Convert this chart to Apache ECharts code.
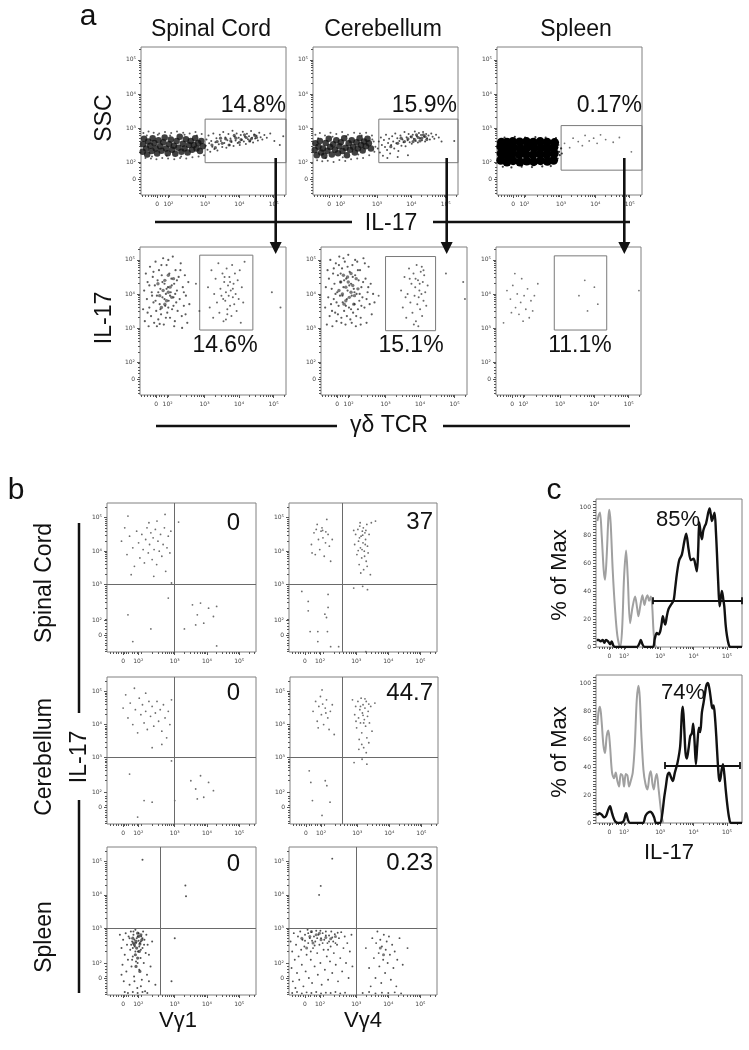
<!DOCTYPE html>
<html><head><meta charset="utf-8">
<script src="https://cdn.jsdelivr.net/npm/echarts/dist/echarts.min.js"></script>
<style>html,body{margin:0;padding:0;background:#fff}#c{width:749px;height:1050px}</style>
</head><body><div id="c"></div>
<script>
// ================= DATA (display coordinates: biexponential decades, 10^3 = 3) =================
const flowLabels = ['0','10²','10³','10⁴','10⁵'];
const aXTicks = [1.6,1.93,3,4,5];
const aYTicks = [1.5,2,3,4,5];
const bXTicks = [1.4,1.87,3,4,5];
const bYTicks = [1.49,1.94,3,4,5];
const cXTicks = [1.48,1.92,3,4,5];
const cYTicks = [0,20,40,60,80,100];
const cYLabels = ['0','20','40','60','80','100'];

// ---- panel a, top row: IL-17 (x) vs SSC (y) ----
const a1Core = [[1.18,2.30],[1.19,2.52],[1.22,2.68],[1.28,2.40],[1.31,2.22],[1.34,2.60],[1.40,2.48],[1.44,2.32],[1.47,2.70],[1.52,2.56],[1.56,2.40],[1.60,2.25],[1.64,2.64],[1.69,2.46],[1.73,2.33],[1.78,2.58],[1.82,2.72],[1.86,2.40],[1.91,2.26],[1.95,2.52],[2.00,2.66],[2.04,2.36],[2.09,2.48],[2.13,2.24],[2.17,2.62],[2.22,2.42],[2.26,2.74],[2.31,2.30],[2.35,2.54],[2.40,2.40],[2.44,2.67],[2.49,2.28],[2.53,2.50],[2.58,2.62],[2.62,2.36],[2.67,2.50],[2.71,2.70],[2.75,2.40],[2.80,2.56],[2.85,2.32],[2.89,2.62],[2.93,2.46]];
const a1Fringe = [[1.20,2.85],[1.26,2.12],[1.35,2.90],[1.42,2.10],[1.50,2.86],[1.58,2.08],[1.66,2.84],[1.75,2.12],[1.83,2.88],[1.92,2.10],[2.01,2.85],[2.10,2.08],[2.18,2.90],[2.27,2.12],[2.36,2.86],[2.45,2.10],[2.55,2.84],[2.63,2.14],[2.72,2.88],[2.81,2.16],[2.90,2.82],[2.97,2.20],[1.30,2.78],[1.62,2.80],[1.98,2.78],[2.40,2.80],[2.76,2.78],[1.45,2.16],[1.88,2.18],[2.30,2.16]];
const a1Band = [[3.02,2.48],[3.04,2.66],[3.07,2.36],[3.10,2.78],[3.12,2.55],[3.15,2.30],[3.18,2.62],[3.21,2.45],[3.24,2.84],[3.27,2.38],[3.30,2.58],[3.33,2.70],[3.36,2.34],[3.40,2.52],[3.43,2.80],[3.46,2.62],[3.50,2.44],[3.53,2.88],[3.56,2.56],[3.59,2.72],[3.62,2.42],[3.65,2.64],[3.68,2.82],[3.71,2.50],[3.74,2.69],[3.77,2.59],[3.80,2.92],[3.83,2.47],[3.86,2.74],[3.89,2.63],[3.92,2.84],[3.95,2.56],[3.98,2.71],[4.01,2.50],[4.04,2.79],[4.07,2.65],[4.10,2.89],[4.13,2.60],[4.16,2.74],[4.19,2.53],[4.22,2.83],[4.25,2.67],[4.28,2.76],[4.31,2.61],[4.34,2.91],[4.37,2.71],[4.40,2.57],[4.43,2.81],[4.46,2.69],[4.50,2.77],[4.54,2.63],[4.58,2.86],[4.62,2.73],[4.67,2.66],[4.73,2.79],[4.80,2.71],[4.90,2.84],[5.02,2.62],[5.18,2.50],[5.28,2.76]];
const a1BandMid = [[3.20,2.50],[3.35,2.60],[3.50,2.55],[3.60,2.68],[3.75,2.62],[3.90,2.70],[4.05,2.66],[4.20,2.72],[4.35,2.68],[4.50,2.72],[3.30,2.42],[3.45,2.70],[3.70,2.50],[3.85,2.78],[4.00,2.58],[4.15,2.80],[4.30,2.62],[4.45,2.78]];

const a2Core = [[1.18,2.35],[1.20,2.55],[1.24,2.20],[1.29,2.45],[1.33,2.62],[1.37,2.28],[1.42,2.40],[1.46,2.18],[1.50,2.56],[1.55,2.33],[1.59,2.68],[1.63,2.44],[1.68,2.22],[1.72,2.52],[1.77,2.36],[1.81,2.64],[1.86,2.26],[1.90,2.46],[1.94,2.58],[1.99,2.32],[2.04,2.70],[2.08,2.42],[2.12,2.20],[2.17,2.55],[2.21,2.36],[2.26,2.64],[2.30,2.45],[2.35,2.28],[2.40,2.58],[2.44,2.40],[2.49,2.70],[2.53,2.50],[2.58,2.34],[2.62,2.60],[2.67,2.46],[2.72,2.68],[2.76,2.55],[2.82,2.40]];
const a2Fringe = [[1.20,2.80],[1.25,2.05],[1.33,2.85],[1.40,2.02],[1.48,2.78],[1.56,2.04],[1.64,2.86],[1.73,2.00],[1.81,2.82],[1.90,2.06],[1.98,2.88],[2.07,2.03],[2.15,2.80],[2.24,2.08],[2.33,2.86],[2.42,2.10],[2.50,2.84],[2.59,2.12],[2.68,2.86],[2.77,2.20],[2.85,2.78],[2.90,2.60],[2.95,2.45],[2.92,2.30],[1.28,2.70],[1.70,2.74],[2.10,2.76],[2.55,2.78],[2.86,2.66],[1.50,2.12],[2.00,2.14],[2.45,2.22]];
const a2Band = [[3.02,2.40],[3.05,2.60],[3.08,2.28],[3.11,2.72],[3.14,2.50],[3.17,2.18],[3.20,2.65],[3.23,2.44],[3.26,2.80],[3.29,2.35],[3.32,2.56],[3.35,2.68],[3.38,2.25],[3.41,2.50],[3.44,2.76],[3.47,2.60],[3.50,2.40],[3.53,2.84],[3.56,2.55],[3.59,2.70],[3.62,2.32],[3.65,2.62],[3.68,2.78],[3.71,2.48],[3.74,2.66],[3.77,2.58],[3.80,2.88],[3.83,2.46],[3.86,2.73],[3.89,2.64],[3.92,2.82],[3.95,2.58],[3.98,2.74],[4.01,2.54],[4.04,2.80],[4.07,2.68],[4.10,2.90],[4.13,2.62],[4.16,2.76],[4.19,2.57],[4.22,2.85],[4.25,2.70],[4.28,2.79],[4.31,2.64],[4.34,2.88],[4.37,2.74],[4.40,2.60],[4.43,2.82],[4.46,2.70],[4.50,2.78],[4.54,2.66],[4.58,2.84],[4.62,2.74],[4.67,2.68],[4.72,2.80],[4.80,2.72],[4.88,2.60],[3.30,2.12],[3.60,2.15],[3.90,2.20],[5.25,2.62]];
const a2BandMid = [[3.90,2.68],[4.00,2.74],[4.10,2.66],[4.20,2.72],[4.30,2.70],[4.40,2.75],[4.15,2.80],[4.25,2.62],[4.35,2.80],[3.80,2.60],[4.45,2.66],[4.05,2.60],[3.60,2.55],[3.40,2.45],[3.70,2.70]];

const a3Core = [[1.24,2.05],[1.25,2.25],[1.24,2.45],[1.26,2.58],[1.42,2.00],[1.43,2.20],[1.41,2.40],[1.42,2.58],[1.60,2.04],[1.58,2.24],[1.61,2.42],[1.59,2.60],[1.80,2.00],[1.78,2.22],[1.81,2.40],[1.79,2.59],[2.00,2.03],[1.98,2.23],[2.01,2.43],[1.99,2.60],[2.20,2.01],[2.18,2.21],[2.21,2.41],[2.19,2.58],[2.40,2.04],[2.38,2.24],[2.41,2.42],[2.39,2.60],[2.60,2.02],[2.58,2.22],[2.61,2.40],[2.59,2.58],[2.78,2.05],[2.80,2.25],[2.79,2.43],[2.81,2.57]];
const a3Fringe = [[2.90,2.10],[2.94,2.30],[2.92,2.50],[2.96,2.20],[2.88,2.62],[1.30,1.86],[1.55,1.84],[1.85,1.86],[2.15,1.85],[2.45,1.87],[2.70,1.88],[1.35,2.72],[1.65,2.74],[1.95,2.72],[2.25,2.73],[2.55,2.72],[2.85,2.70],[3.00,2.40],[3.02,2.25]];
const a3Gate = [[3.10,2.55],[3.25,2.42],[3.35,2.70],[3.50,2.60],[3.62,2.48],[3.70,2.78],[3.82,2.62],[3.95,2.70],[4.05,2.55],[4.15,2.80],[4.30,2.66],[4.52,2.58],[4.70,2.72],[5.05,2.30]];

// ---- panel a, bottom row: γδ TCR (x) vs IL-17 (y) ----
const a4Cloud = [[1.22,3.55],[1.25,4.10],[1.27,3.20],[1.30,4.60],[1.33,3.85],[1.35,4.35],[1.38,3.05],[1.40,3.60],[1.42,4.80],[1.45,3.35],[1.47,4.05],[1.50,4.50],[1.52,3.75],[1.54,3.15],[1.56,4.25],[1.58,4.95],[1.60,3.50],[1.62,3.95],[1.64,4.40],[1.66,3.25],[1.68,4.70],[1.70,3.70],[1.72,4.15],[1.74,3.40],[1.76,4.55],[1.78,3.90],[1.80,5.05],[1.82,3.10],[1.84,4.30],[1.86,3.65],[1.88,4.00],[1.90,4.85],[1.92,3.45],[1.94,4.20],[1.96,3.80],[1.98,4.60],[2.00,3.30],[2.02,4.05],[2.04,4.45],[2.06,3.55],[2.08,5.10],[2.10,3.90],[2.12,4.30],[2.14,3.20],[2.16,4.70],[2.18,3.75],[2.20,4.10],[2.22,3.50],[2.25,4.50],[2.28,3.85],[2.31,4.90],[2.34,3.35],[2.37,4.20],[2.40,3.65],[2.43,4.55],[2.46,3.95],[2.50,3.15],[2.53,4.35],[2.56,3.70],[1.35,3.45],[1.48,3.95],[1.58,3.80],[1.66,4.05],[1.72,3.55],[1.78,4.35],[1.84,3.85],[1.90,4.15],[1.95,3.60],[2.00,3.95],[2.05,4.25],[2.10,3.65],[2.15,4.00],[2.20,4.40],[1.75,4.85],[1.95,5.00],[2.30,4.70],[1.40,4.25],[1.52,4.65],[2.40,4.05],[2.45,3.40],[1.62,3.05],[1.88,3.30],[2.12,3.05],[2.35,3.00],[1.70,3.12]];
const a4CloudMid = [[1.70,3.95],[1.80,4.10],[1.90,3.80],[1.85,4.40],[2.00,4.20],[1.75,3.60],[1.95,4.55],[2.05,3.90],[1.65,4.30],[2.10,4.45],[1.85,3.70],[1.95,4.05]];
const a4Gate = [[3.10,4.20],[3.15,3.60],[3.20,4.70],[3.25,3.30],[3.28,4.00],[3.32,4.45],[3.36,3.75],[3.40,4.90],[3.43,3.45],[3.46,4.15],[3.49,3.95],[3.52,4.60],[3.55,3.20],[3.57,4.35],[3.60,3.80],[3.62,4.05],[3.64,4.75],[3.66,3.55],[3.68,4.25],[3.70,3.95],[3.72,4.50],[3.74,3.65],[3.76,4.10],[3.78,3.35],[3.80,4.85],[3.82,3.90],[3.84,4.30],[3.86,3.70],[3.88,4.60],[3.90,4.00],[3.93,3.50],[3.96,4.40],[3.99,3.85],[4.02,4.70],[4.05,3.15],[4.08,4.20],[4.12,3.75],[4.16,4.95],[3.58,4.50],[3.66,3.40],[3.74,4.35],[3.82,4.15],[3.62,3.25],[3.54,3.85],[4.95,4.05],[5.20,3.60],[2.75,4.30],[2.85,3.50]];

const a5Cloud = [[1.25,3.60],[1.27,4.20],[1.30,3.10],[1.32,4.70],[1.34,3.90],[1.36,4.45],[1.38,3.35],[1.40,5.00],[1.42,3.70],[1.44,4.15],[1.46,3.05],[1.48,4.60],[1.50,3.85],[1.52,4.30],[1.54,3.45],[1.56,4.90],[1.58,3.20],[1.60,4.05],[1.62,4.55],[1.64,3.65],[1.66,5.10],[1.68,3.95],[1.70,4.35],[1.72,3.30],[1.74,4.75],[1.76,3.75],[1.78,4.20],[1.80,3.50],[1.82,4.95],[1.84,3.10],[1.86,4.45],[1.88,3.85],[1.90,4.10],[1.92,5.15],[1.94,3.60],[1.96,4.65],[1.98,3.25],[2.00,4.30],[2.02,3.95],[2.04,4.85],[2.06,3.45],[2.08,4.15],[2.10,3.70],[2.12,4.55],[2.14,3.05],[2.16,4.00],[2.18,4.95],[2.20,3.55],[2.22,4.40],[2.24,3.80],[2.26,4.70],[2.28,3.30],[2.30,4.20],[2.33,3.90],[2.36,5.05],[2.39,3.60],[2.42,4.45],[2.45,3.15],[2.48,4.05],[2.51,4.80],[2.54,3.70],[2.57,4.30],[2.60,3.40],[2.64,4.00],[2.68,3.75],[1.45,3.50],[1.55,4.00],[1.62,3.40],[1.70,4.60],[1.75,3.95],[1.80,4.40],[1.85,3.65],[1.90,4.80],[1.95,4.25],[2.00,3.55],[2.05,4.50],[2.10,4.05],[2.15,3.35],[2.20,4.70],[2.25,4.00],[2.30,3.65],[2.35,4.35],[1.65,4.85],[1.78,5.05],[2.12,5.00],[1.50,4.75],[2.40,4.90],[1.58,3.75],[2.45,3.85],[2.50,4.20],[1.72,3.15],[2.02,3.15],[1.88,3.35],[2.28,3.10]];
const a5CloudMid = [[1.75,4.00],[1.85,4.20],[1.95,3.90],[1.90,4.50],[2.05,4.25],[1.80,3.70],[2.00,4.60],[2.10,3.95],[1.70,4.35],[2.15,4.45],[1.85,3.80],[2.00,4.05],[1.65,4.10],[2.20,4.15],[1.92,4.35],[1.78,4.55],[2.08,3.70]];
const a5Gate = [[3.45,4.10],[3.50,3.60],[3.55,4.50],[3.60,3.30],[3.64,4.00],[3.68,4.75],[3.72,3.75],[3.75,4.30],[3.78,3.45],[3.81,4.60],[3.84,3.95],[3.86,4.20],[3.88,3.20],[3.90,4.85],[3.92,3.70],[3.94,4.40],[3.96,3.90],[3.98,4.10],[4.00,3.55],[4.02,4.65],[4.04,4.00],[4.06,3.35],[4.08,4.35],[4.10,3.80],[4.12,4.55],[4.15,4.05],[4.18,3.65],[4.22,4.25],[3.70,4.45],[3.82,3.10],[3.95,3.05],[4.05,4.80],[3.87,4.45],[3.99,4.30],[4.10,4.70],[3.58,3.90],[5.25,4.35],[5.30,3.85],[2.80,3.95],[4.75,4.60]];

const a6Dots = [[1.45,4.10],[1.55,3.85],[1.62,4.25],[1.70,3.60],[1.75,4.00],[1.80,3.40],[1.85,3.75],[1.88,4.45],[1.92,3.20],[1.95,3.95],[2.00,3.55],[2.05,4.15],[2.10,3.30],[2.15,3.80],[2.20,3.50],[1.68,4.60],[1.58,3.45],[2.25,3.95],[1.35,3.15],[2.35,4.30],[3.55,3.95],[3.72,4.40],[4.00,4.20],[4.10,3.70],[3.80,3.50],[5.30,4.10]];

// ---- panel b: Vγ1 / Vγ4 (x) vs IL-17 (y) ----
const b1Dots = [[1.35,4.30],[1.45,4.70],[1.52,3.90],[1.60,4.45],[1.70,4.10],[1.75,3.55],[1.82,4.60],[1.88,4.25],[1.92,3.80],[1.98,4.50],[2.02,4.05],[2.06,3.65],[2.10,4.35],[2.14,4.70],[2.18,3.95],[2.22,4.20],[2.26,4.55],[2.30,3.75],[2.33,4.40],[2.36,4.05],[2.40,4.65],[2.44,3.60],[2.48,4.30],[2.52,4.00],[2.56,4.50],[2.60,3.85],[2.64,4.20],[2.68,4.70],[2.72,3.40],[2.76,4.10],[2.80,4.45],[2.85,3.95],[2.88,4.60],[2.20,4.85],[2.45,4.90],[1.65,3.30],[2.35,3.25],[2.90,3.05],[1.55,5.05],[2.70,5.10],[3.12,4.87],[3.55,2.40],[3.70,2.10],[3.80,2.45],[3.90,1.85],[4.05,2.30],[4.20,2.05],[3.65,1.80],[4.30,2.35],[2.26,1.68],[3.30,1.68],[4.30,1.17],[1.55,2.10],[2.80,2.60],[1.70,1.30]];
const b2Dots = [[1.60,4.20],[1.68,4.55],[1.72,3.90],[1.78,4.80],[1.82,4.35],[1.86,4.05],[1.90,4.60],[1.93,4.70],[1.96,4.40],[2.00,3.85],[2.04,4.25],[2.08,4.95],[2.12,4.50],[2.16,4.15],[2.20,3.70],[2.25,4.35],[1.75,4.65],[1.95,4.62],[2.05,4.58],[1.62,3.95],[2.95,4.20],[2.98,4.50],[3.02,3.90],[3.05,4.65],[3.07,4.30],[3.09,3.60],[3.11,4.75],[3.13,4.10],[3.15,4.45],[3.17,3.80],[3.19,4.60],[3.21,4.25],[3.23,3.45],[3.25,4.00],[3.27,4.55],[3.29,4.35],[3.31,3.70],[3.33,4.80],[3.35,4.15],[3.37,3.95],[3.40,4.50],[3.44,3.30],[3.47,4.85],[3.10,4.40],[3.18,4.05],[3.22,4.70],[3.26,3.85],[3.14,3.35],[3.30,4.62],[3.06,4.02],[3.20,4.48],[3.28,4.20],[3.12,4.85],[2.92,4.62],[3.34,3.55],[3.60,4.90],[1.50,2.50],[1.50,2.22],[2.02,2.12],[2.07,2.02],[2.12,2.32],[1.56,1.60],[1.80,1.60],[2.10,1.60],[1.80,1.30],[2.20,1.15],[2.45,1.15],[2.12,2.71],[2.92,2.90],[3.20,2.95],[3.35,2.85],[3.30,1.00],[1.30,2.80]];
const b3Dots = [[1.40,4.50],[1.48,4.90],[1.55,4.20],[1.62,4.65],[1.70,4.00],[1.78,4.45],[1.85,3.75],[1.90,4.80],[1.95,4.30],[2.00,4.60],[2.05,4.05],[2.10,4.40],[2.15,3.85],[2.20,4.70],[2.25,4.25],[2.30,4.55],[2.35,3.95],[2.40,4.35],[2.45,4.70],[2.50,4.10],[2.55,4.45],[2.60,3.80],[2.65,4.60],[2.70,4.20],[2.75,3.60],[2.80,4.40],[2.85,4.00],[2.90,4.75],[2.30,3.30],[2.60,3.40],[1.75,5.10],[2.10,4.95],[3.50,2.30],[3.65,2.05],[3.80,2.45],[3.90,1.80],[4.05,2.25],[4.20,2.00],[3.70,1.75],[1.60,2.50],[2.05,1.70],[2.30,1.65],[1.85,1.20],[3.00,1.70],[2.90,2.90]];
const b4Dots = [[1.62,4.40],[1.70,4.70],[1.75,4.10],[1.80,4.55],[1.85,4.85],[1.88,4.30],[1.92,4.62],[1.95,4.00],[2.00,4.50],[2.04,4.75],[2.08,4.20],[2.12,3.85],[2.16,4.40],[2.22,4.60],[2.28,3.70],[1.90,5.05],[2.02,4.35],[1.78,3.90],[2.92,4.30],[2.95,4.55],[2.98,3.90],[3.02,4.70],[3.04,4.20],[3.06,3.55],[3.08,4.45],[3.10,4.05],[3.12,4.80],[3.14,3.75],[3.16,4.35],[3.18,4.60],[3.20,3.30],[3.22,4.15],[3.24,4.50],[3.26,3.95],[3.28,4.70],[3.30,3.60],[3.32,4.25],[3.34,4.40],[3.36,3.45],[3.38,4.05],[3.42,4.55],[3.46,3.80],[3.10,4.55],[3.18,4.28],[3.24,4.78],[3.28,3.15],[3.14,3.40],[3.20,4.05],[2.96,4.10],[3.36,4.62],[3.05,3.25],[2.85,4.75],[3.55,4.65],[1.50,2.60],[1.55,2.25],[2.00,2.30],[2.05,2.15],[1.60,1.70],[2.15,1.65],[1.90,1.25],[2.90,2.85],[3.15,2.95],[3.30,2.80]];
const b5Dots = [[1.30,2.80],[1.35,2.40],[1.38,1.90],[1.40,2.65],[1.42,1.40],[1.45,2.20],[1.48,2.85],[1.50,1.70],[1.52,2.50],[1.55,2.05],[1.57,2.75],[1.60,1.30],[1.62,2.35],[1.64,2.90],[1.66,1.85],[1.68,2.60],[1.70,2.15],[1.72,2.80],[1.74,1.55],[1.76,2.45],[1.78,2.95],[1.80,2.00],[1.82,2.70],[1.84,1.20],[1.86,2.30],[1.88,2.85],[1.90,1.75],[1.92,2.55],[1.94,2.10],[1.96,2.75],[1.98,1.45],[2.00,2.40],[2.02,2.90],[2.04,1.95],[2.06,2.65],[2.08,1.10],[2.10,2.25],[2.12,2.80],[2.14,1.60],[2.16,2.50],[1.65,2.50],[1.70,2.40],[1.75,2.65],[1.80,2.55],[1.85,2.75],[1.90,2.45],[1.95,2.60],[2.00,2.70],[1.72,2.90],[1.88,2.62],[1.78,2.30],[1.95,2.35],[1.60,2.70],[2.05,2.50],[1.68,2.05],[1.85,1.95],[1.75,1.40],[1.95,1.25],[1.55,1.05],[1.85,1.05],[2.00,1.08],[2.15,1.05],[1.45,1.08],[1.70,1.08],[2.20,2.20],[2.25,1.85],[2.30,2.60],[1.35,1.60],[2.40,1.30],[2.20,1.40],[2.00,5.06],[3.33,4.28],[3.35,3.96],[3.00,2.70],[2.90,1.40]];
const b5Mid = [[1.80,2.60],[1.88,2.75],[1.75,2.50],[1.92,2.52],[1.82,2.40],[1.70,2.70],[1.98,2.65],[1.85,2.85],[1.78,2.20],[1.90,2.30],[1.95,2.80],[1.72,2.55],[1.85,2.10],[1.80,1.85],[1.92,1.70]];
const b6Dots = [[0.95,2.60],[0.98,1.80],[1.00,2.30],[1.02,1.40],[1.05,2.85],[1.08,2.05],[1.10,1.20],[1.12,2.50],[1.15,1.65],[1.18,2.75],[1.20,2.15],[1.22,1.45],[1.25,2.90],[1.28,2.35],[1.30,1.90],[1.32,2.65],[1.35,1.25],[1.38,2.45],[1.40,2.80],[1.42,1.70],[1.45,2.20],[1.48,2.95],[1.50,2.55],[1.52,1.50],[1.55,2.70],[1.58,2.05],[1.60,2.88],[1.62,1.35],[1.65,2.40],[1.68,2.75],[1.70,1.85],[1.72,2.60],[1.75,2.92],[1.78,2.25],[1.80,1.60],[1.82,2.80],[1.85,2.50],[1.88,1.95],[1.90,2.70],[1.92,1.30],[1.95,2.85],[1.98,2.35],[2.00,2.65],[2.02,1.75],[2.05,2.90],[2.08,2.15],[2.10,2.55],[2.12,1.45],[2.15,2.78],[2.18,2.00],[2.20,2.45],[2.22,2.90],[2.25,1.65],[2.28,2.60],[2.30,2.25],[2.33,2.82],[2.36,1.90],[2.40,2.50],[2.43,1.40],[2.46,2.70],[2.50,2.10],[2.53,2.88],[2.56,1.70],[2.60,2.40],[2.64,2.75],[2.68,1.95],[2.72,2.55],[2.76,1.50],[2.80,2.30],[2.85,2.80],[2.88,1.85],[1.50,2.85],[1.62,2.62],[1.78,2.70],[1.95,2.55],[2.05,2.78],[2.15,2.60],[2.25,2.72],[2.35,2.55],[1.40,2.62],[1.70,2.48],[1.88,2.92],[2.42,2.86],[1.58,2.30],[2.12,2.35],[1.00,1.05],[1.15,1.08],[1.30,1.04],[1.45,1.07],[1.60,1.05],[1.75,1.08],[1.90,1.04],[2.05,1.06],[2.20,1.05],[2.35,1.08],[2.50,1.04],[2.65,1.06],[3.20,1.05],[3.40,1.08],[3.60,1.04],[3.80,1.06],[4.00,1.05],[4.20,1.07],[4.40,1.04],[3.30,2.40],[3.40,1.80],[3.50,2.70],[3.55,2.10],[3.60,1.50],[3.62,2.55],[3.66,2.90],[3.70,2.25],[3.72,1.85],[3.75,2.65],[3.78,1.35],[3.80,2.45],[3.84,2.05],[3.86,2.80],[3.90,1.65],[3.92,2.35],[3.95,2.60],[3.98,1.95],[4.02,2.75],[4.05,2.20],[4.08,1.45],[4.12,2.50],[4.16,1.80],[4.20,2.30],[4.28,2.05],[4.35,2.70],[4.45,1.90],[4.60,2.40],[3.45,1.25],[4.25,1.25],[2.25,5.09],[1.89,4.27],[1.84,4.00]];
const b6Mid = [[1.55,2.75],[1.75,2.80],[1.90,2.65],[2.05,2.72],[1.65,2.55],[2.20,2.68],[1.85,2.85],[1.45,2.40],[3.75,2.40],[3.85,2.20],[1.30,2.70],[2.35,2.75],[1.60,2.90]];

// ---- panel c: IL-17 histograms (% of Max) ----
const c1Gray = [[1.12,90],[1.16,94],[1.20,96],[1.25,80],[1.31,55],[1.35,48],[1.40,65],[1.45,92],[1.48,98],[1.52,88],[1.58,55],[1.65,27],[1.72,8],[1.80,0],[1.86,12],[1.92,50],[1.98,69],[2.03,50],[2.10,17],[2.17,28],[2.25,36],[2.31,28],[2.35,22],[2.41,30],[2.47,37],[2.53,30],[2.58,35],[2.62,37],[2.67,33],[2.72,36],[2.76,30],[2.80,12],[2.84,2],[2.88,0]];
const c1Black = [[1.10,5],[1.16,5],[1.22,4],[1.28,5],[1.33,3],[1.38,5],[1.44,4],[1.50,2],[1.55,4],[1.60,1],[1.66,0],[2.30,0],[2.37,2],[2.42,5],[2.47,2],[2.53,0],[2.78,0],[2.84,6],[2.90,10],[2.95,9],[3.00,11],[3.04,16],[3.08,22],[3.12,18],[3.15,16],[3.20,22],[3.25,27],[3.32,30],[3.40,33],[3.45,42],[3.50,52],[3.57,62],[3.65,66],[3.72,75],[3.78,81],[3.85,70],[3.92,62],[4.00,63],[4.06,58],[4.10,54],[4.14,70],[4.17,89],[4.21,82],[4.25,77],[4.29,83],[4.33,86],[4.37,88],[4.40,91],[4.44,96],[4.48,99],[4.52,94],[4.55,90],[4.59,93],[4.63,96],[4.67,82],[4.70,67],[4.74,45],[4.78,29],[4.82,36],[4.85,40],[4.89,34],[4.92,29],[4.96,16],[5.00,8],[5.05,2],[5.10,0],[5.45,0]];
const c2Gray = [[1.12,70],[1.16,80],[1.20,83],[1.25,72],[1.30,56],[1.35,50],[1.40,62],[1.45,66],[1.50,55],[1.56,36],[1.62,32],[1.67,36],[1.72,30],[1.77,26],[1.82,35],[1.87,34],[1.92,26],[1.97,35],[2.02,34],[2.07,26],[2.12,30],[2.18,36],[2.24,55],[2.30,88],[2.35,98],[2.39,90],[2.44,62],[2.50,38],[2.56,28],[2.62,24],[2.68,34],[2.72,37],[2.77,28],[2.81,24],[2.86,32],[2.90,35],[2.95,25],[3.00,14],[3.05,4],[3.09,0]];
const c2Black = [[1.08,7],[1.13,6],[1.18,7],[1.25,6],[1.32,4],[1.38,5],[1.44,9],[1.50,12],[1.55,8],[1.60,4],[1.66,1],[1.75,0],[1.90,1],[1.98,7],[2.04,2],[2.10,0],[2.48,0],[2.56,5],[2.62,7],[2.70,8],[2.76,7],[2.82,4],[2.88,0],[3.00,0],[3.06,6],[3.12,18],[3.17,26],[3.22,34],[3.27,36],[3.32,33],[3.38,30],[3.44,36],[3.52,43],[3.60,55],[3.65,78],[3.68,83],[3.72,68],[3.76,50],[3.80,46],[3.85,53],[3.90,62],[3.95,64],[3.99,71],[4.03,58],[4.07,42],[4.11,55],[4.16,68],[4.20,65],[4.25,79],[4.30,86],[4.34,92],[4.38,98],[4.43,100],[4.48,95],[4.52,88],[4.56,82],[4.60,84],[4.64,76],[4.68,62],[4.72,45],[4.76,32],[4.79,30],[4.84,38],[4.88,42],[4.92,35],[4.97,22],[5.02,11],[5.07,3],[5.12,0],[5.45,0]];

// gates [x1, y1, x2, y2] (null = to panel edge), quadrants [x, y], histogram markers [x1, x2, y]
const gatesA = {a1:[3.0,1.98,null,3.26], a2:[3.05,1.98,null,3.26], a3:[3.0,1.76,null,3.07], a4:[2.86,2.94,4.40,5.14], a5:[3.0,2.92,4.45,5.10], a6:[2.83,2.94,4.36,5.12]};
const quadsB = {b1:[3.0,3.0], b2:[2.55,3.0], b3:[3.0,3.0], b4:[2.53,3.0], b5:[2.55,3.0], b6:[3.0,3.0]};
const histMarkers = {c1:[2.78,5.44,33.1], c2:[3.15,5.37,41.1]};

// ================= LAYOUT / BUILD =================
const FONT = '"Liberation Sans", Arial, Helvetica, sans-serif';
const AX = [1.13,5.36], AY = [1.03,5.38], BX = [0.9,5.52], BY = [0.99,5.44], CX = [1.08,5.45], CY = [0,105.7];

function logMinors(lo, hi, extra) {
  const out = [];
  [1,2,3,4,5].forEach(d => { for (let k = 2; k <= 9; k++) { const v = d + Math.log10(k); if (v > 1.95 && v > lo && v < hi) out.push(v); } });
  (extra||[]).forEach(v => { if (v > lo && v < hi) out.push(v); });
  return out;
}
const lowMinors = [1.18,1.26,1.34,1.42,1.5,1.56,1.68,1.76,1.84,1.0,1.08];

const panels = [
  {id:'a1', box:[141,47,145,148], xr:AX, yr:AY, xt:aXTicks, yt:aYTicks, layers:[[a1Fringe,2,'#333',0.8],[a1Band,2,'#333',0.85],[a1BandMid,3.2,'#222',0.7],[a1Core,6.5,'#111',0.8]], gate:gatesA.a1},
  {id:'a2', box:[313,47,145,148], xr:AX, yr:AY, xt:aXTicks, yt:aYTicks, layers:[[a2Fringe,2,'#333',0.8],[a2Band,2,'#333',0.85],[a2BandMid,3.2,'#222',0.7],[a2Core,6.5,'#111',0.8]], gate:gatesA.a2},
  {id:'a3', box:[497,47,145,148], xr:AX, yr:AY, xt:aXTicks, yt:aYTicks, layers:[[a3Fringe,2.2,'#222',0.9],[a3Gate,1.8,'#666',0.9],[a3Core,9,'#000',1]], gate:gatesA.a3},
  {id:'a4', box:[140,247,146,148], xr:AX, yr:AY, xt:aXTicks, yt:aYTicks, layers:[[a4Cloud,2.2,'#333',0.8],[a4CloudMid,3.4,'#222',0.6],[a4Gate,2,'#444',0.8]], gate:gatesA.a4},
  {id:'a5', box:[321,247,146,148], xr:AX, yr:AY, xt:aXTicks, yt:aYTicks, layers:[[a5Cloud,2.2,'#333',0.8],[a5CloudMid,3.4,'#222',0.6],[a5Gate,2,'#444',0.8]], gate:gatesA.a5},
  {id:'a6', box:[496,247,145,148], xr:AX, yr:AY, xt:aXTicks, yt:aYTicks, layers:[[a6Dots,1.8,'#666',0.9]], gate:gatesA.a6},
  {id:'b1', box:[107,503,149,149], xr:BX, yr:BY, xt:bXTicks, yt:bYTicks, layers:[[b1Dots,1.8,'#555',0.85]], quad:quadsB.b1},
  {id:'b2', box:[289,503,148,149], xr:BX, yr:BY, xt:bXTicks, yt:bYTicks, layers:[[b2Dots,1.8,'#555',0.85]], quad:quadsB.b2},
  {id:'b3', box:[107,677,149,147], xr:BX, yr:BY, xt:bXTicks, yt:bYTicks, layers:[[b3Dots,1.8,'#555',0.85]], quad:quadsB.b3},
  {id:'b4', box:[290,677,148,147], xr:BX, yr:BY, xt:bXTicks, yt:bYTicks, layers:[[b4Dots,1.8,'#555',0.85]], quad:quadsB.b4},
  {id:'b5', box:[107,847,149,148], xr:BX, yr:BY, xt:bXTicks, yt:bYTicks, layers:[[b5Dots,2,'#333',0.85],[b5Mid,3.2,'#222',0.7]], quad:quadsB.b5},
  {id:'b6', box:[289,847,148,148], xr:BX, yr:BY, xt:bXTicks, yt:bYTicks, layers:[[b6Dots,1.9,'#333',0.85],[b6Mid,3,'#222',0.6]], quad:quadsB.b6},
  {id:'c1', box:[596,499,146,148], xr:CX, yr:CY, xt:cXTicks, yt:cYTicks, ylab:cYLabels, hist:[c1Gray,c1Black], marker:histMarkers.c1},
  {id:'c2', box:[596,675,146,148], xr:CX, yr:CY, xt:cXTicks, yt:cYTicks, ylab:cYLabels, hist:[c2Gray,c2Black], marker:histMarkers.c2}
];

const grids = [], xAxes = [], yAxes = [], series = [];
function mkAxis(gi, range, ticks, labels, minors, isY) {
  const fmt = v => { for (let i = 0; i < ticks.length; i++) if (Math.abs(ticks[i] - v) < 1e-6) return labels[i]; return ''; };
  const main = {type:'value', gridIndex:gi, min:range[0], max:range[1], position: isY ? 'left' : 'bottom',
    axisLine:{show:false}, splitLine:{show:false},
    axisTick:{show:true, length:3, customValues:ticks, lineStyle:{color:'#555', width:1}},
    axisLabel:{show:true, customValues:ticks, formatter:fmt, fontSize:6, color:'#444', fontFamily:'"DejaVu Sans", sans-serif', margin: isY ? 5 : 6, hideOverlap:false}};
  const minor = {type:'value', gridIndex:gi, min:range[0], max:range[1], position: isY ? 'left' : 'bottom',
    axisLine:{show:false}, splitLine:{show:false}, axisLabel:{show:false},
    axisTick:{show:true, length: isY && !labels.includes('10⁵') ? 3 : 2, customValues:minors, lineStyle:{color:'#555', width:1}}};
  return [main, minor];
}

panels.forEach((p, gi) => {
  grids.push({left:p.box[0], top:p.box[1], width:p.box[2], height:p.box[3], show:true, borderColor:'#808080', borderWidth:1, backgroundColor:'rgba(0,0,0,0)'});
  const xm = logMinors(p.xr[0], p.xr[1], lowMinors);
  const isHist = !!p.hist;
  const ym = isHist ? Array.from({length:53}, (_, i) => i * 2).filter(v => v % 20 !== 0) : logMinors(p.yr[0], p.yr[1], lowMinors);
  xAxes.push(...mkAxis(gi, p.xr, p.xt, flowLabels, xm, false));
  yAxes.push(...mkAxis(gi, p.yr, p.yt, p.ylab || flowLabels, ym, true));
  const xi = 2 * gi, yi = 2 * gi;
  if (p.layers) {
    p.layers.forEach((L, li) => {
      const s = {type:'scatter', xAxisIndex:xi, yAxisIndex:yi, data:L[0], symbolSize:L[1], itemStyle:{color:L[2], opacity:L[3]}, silent:true, z:2};
      if (li === 0 && p.gate) {
        const g = p.gate;
        s.markArea = {silent:true, itemStyle:{color:'rgba(0,0,0,0)', borderColor:'#7a7a7a', borderWidth:1},
          data:[[{coord:[g[0], g[1]]}, {coord:[g[2] === null ? p.xr[1] : g[2], g[3]]}]]};
      }
      if (li === 0 && p.quad) {
        s.markLine = {silent:true, symbol:'none', label:{show:false}, lineStyle:{color:'#6a6a6a', width:1, type:'solid'},
          data:[{xAxis:p.quad[0]}, {yAxis:p.quad[1]}]};
      }
      series.push(s);
    });
  }
  if (isHist) {
    series.push({type:'line', xAxisIndex:xi, yAxisIndex:yi, data:p.hist[0], smooth:0.3, symbol:'none', silent:true,
      lineStyle:{color:'#a0a0a0', width:2}, z:2});
    const m = p.marker;
    series.push({type:'line', xAxisIndex:xi, yAxisIndex:yi, data:p.hist[1], smooth:0.3, symbol:'none', silent:true,
      lineStyle:{color:'#111', width:2.4}, z:3,
      markLine:{silent:true, symbol:'none', label:{show:false}, lineStyle:{color:'#111', width:1.8, type:'solid'},
        data:[[{coord:[m[0], m[2]]}, {coord:[m[1], m[2]]}], [{coord:[m[0], m[2]-2.5]}, {coord:[m[0], m[2]+2.5]}], [{coord:[m[1], m[2]-2.5]}, {coord:[m[1], m[2]+2.5]}]]}});
  }
});

// ---- annotations ----
function T(text, x, y, size, align, rot) {
  align = align || 'center';
  return {type:'text', x:x, y:y, rotation:rot || 0, silent:true, z:100,
    style:{text:text, font:size + 'px ' + FONT, fill:'#111', textAlign:align, textVerticalAlign:'middle', align:align, verticalAlign:'middle'}};
}
function Ln(x1, y1, x2, y2, w) {
  return {type:'line', silent:true, z:100, shape:{x1:x1, y1:y1, x2:x2, y2:y2}, style:{stroke:'#111', lineWidth:w || 2.5}};
}
function Arrow(x, y1, y2) {
  return [Ln(x, y1, x, y2 - 10, 2.6),
    {type:'polygon', silent:true, z:100, shape:{points:[[x - 6, y2 - 12], [x + 6, y2 - 12], [x, y2]]}, style:{fill:'#111'}}];
}
const R = Math.PI / 2;
const graphics = [
  T('a', 88, 17, 30), T('b', 16, 491, 30), T('c', 554, 491, 30),
  T('Spinal Cord', 211, 30, 23), T('Cerebellum', 383, 30, 23), T('Spleen', 576, 30, 23),
  T('SSC', 105, 118, 23, 'center', R), T('IL-17', 105, 318, 23, 'center', R),
  T('14.8%', 286, 106, 23, 'right'), T('15.9%', 457, 106, 23, 'right'), T('0.17%', 642, 106, 23, 'right'),
  T('14.6%', 225, 346, 23), T('15.1%', 411, 346, 23), T('11.1%', 580, 346, 23),
  T('IL-17', 391, 224, 23), Ln(155, 222, 352, 222), Ln(433, 222, 630, 222),
  T('γδ TCR', 389, 426, 23), Ln(156, 426, 337, 426), Ln(443, 426, 630, 426),
  ...Arrow(275.7, 158, 254), ...Arrow(446.7, 158, 254), ...Arrow(624.3, 158, 254),
  T('Spinal Cord', 45, 583, 23, 'center', R), T('Cerebellum', 45, 757, 23, 'center', R), T('Spleen', 45, 937, 23, 'center', R),
  T('IL-17', 80, 757, 23, 'center', R), Ln(79, 523, 79, 713), Ln(79, 800, 79, 993),
  T('0', 240, 523, 24, 'right'), T('37', 433, 522, 24, 'right'),
  T('0', 240, 693, 24, 'right'), T('44.7', 433, 693, 24, 'right'),
  T('0', 240, 864, 24, 'right'), T('0.23', 433, 863, 24, 'right'),
  T('Vγ1', 178, 1021, 22), T('Vγ4', 363, 1021, 22),
  T('85%', 678, 520, 22), T('74%', 683, 693, 22),
  T('% of Max', 560, 575, 22, 'center', R), T('% of Max', 560, 752, 22, 'center', R),
  T('IL-17', 669, 853, 22)
];

const chart = echarts.init(document.getElementById('c'), null, {renderer:'canvas'});
chart.setOption({
  animation:false, backgroundColor:'#fff',
  grid:grids, xAxis:xAxes, yAxis:yAxes, series:series,
  graphic:{elements:graphics}
});
</script></body></html>
